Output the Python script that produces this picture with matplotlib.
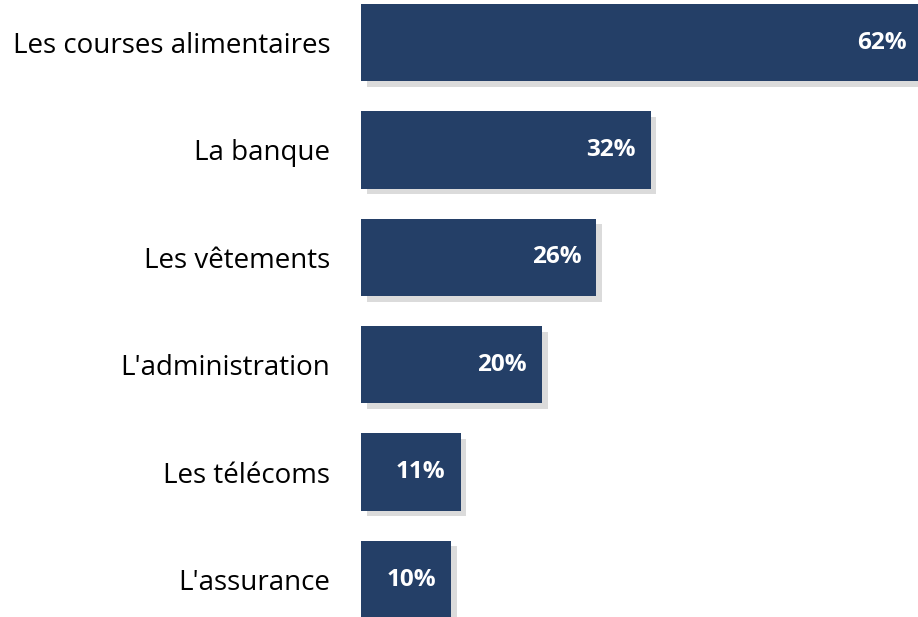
import matplotlib.pyplot as plt
import matplotlib.patheffects as pe

# Données
categories = ["Les courses alimentaires", "La banque", "Les vêtements",
              "L'administration", "Les télécoms", "L'assurance"]
values = [62, 32, 26, 20, 11, 10]
value_labels = ["62%", "32%", "26%", "20%", "11%", "10%"]

plt.rcParams['font.family'] = ['Open Sans', 'DejaVu Sans']

fig = plt.figure(figsize=(9.18, 6.17), dpi=100)
ax = fig.add_axes([361 / 918, 0, 1 - 361 / 918, 1])

pos = list(range(len(categories)))
bars = ax.barh(pos, values, height=0.72, color='#243F67', edgecolor='none')
for b in bars:
    b.set_path_effects([pe.SimplePatchShadow(offset=(4, -4), shadow_rgbFace='#999999', alpha=0.35),
                        pe.Normal()])

for p, v, lab in zip(pos, values, value_labels):
    ax.annotate(lab, (v, p), xytext=(-15, 0), textcoords='offset pixels',
                ha='right', va='center', color='white', fontsize=17.5, fontweight='bold',
                annotation_clip=False)

ax.set_xlim(0, 61.55)
ax.set_ylim(5.349, -0.396)
ax.set_yticks(pos)
ax.set_yticklabels(categories, fontsize=20)
ax.tick_params(axis='y', length=0, pad=22)
ax.set_xticks([])
for s in ax.spines.values():
    s.set_visible(False)

fig.savefig('out.png', dpi=100)
